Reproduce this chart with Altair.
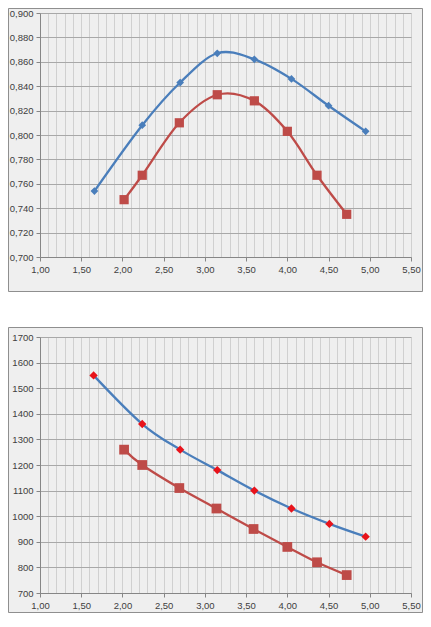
import altair as alt
import pandas as pd

# ---- data ----
x_top_blue = [1.66, 2.24, 2.70, 3.15, 3.60, 4.05, 4.50, 4.95]
y_top_blue = [0.754, 0.808, 0.843, 0.867, 0.862, 0.846, 0.824, 0.803]
x_top_red = [2.02, 2.24, 2.69, 3.15, 3.60, 4.00, 4.36, 4.72]
y_top_red = [0.747, 0.767, 0.810, 0.833, 0.828, 0.803, 0.767, 0.735]

x_bot_blue = [1.65, 2.24, 2.70, 3.15, 3.60, 4.05, 4.51, 4.95]
y_bot_blue = [1550, 1360, 1260, 1180, 1100, 1030, 970, 920]
x_bot_red = [2.02, 2.24, 2.69, 3.14, 3.59, 4.00, 4.36, 4.72]
y_bot_red = [1260, 1200, 1110, 1030, 950, 880, 820, 770]

x_ticks = [1.0, 1.1, 1.2, 1.3, 1.4, 1.5, 1.6, 1.7, 1.8, 1.9,
           2.0, 2.1, 2.2, 2.3, 2.4, 2.5, 2.6, 2.7, 2.8, 2.9,
           3.0, 3.1, 3.2, 3.3, 3.4, 3.5, 3.6, 3.7, 3.8, 3.9,
           4.0, 4.1, 4.2, 4.3, 4.4, 4.5, 4.6, 4.7, 4.8, 4.9,
           5.0, 5.1, 5.2, 5.3, 5.4, 5.5]
y_top_ticks = [0.70, 0.72, 0.74, 0.76, 0.78, 0.80, 0.82, 0.84, 0.86, 0.88, 0.90]
y_bot_ticks = [700, 800, 900, 1000, 1100, 1200, 1300, 1400, 1500, 1600, 1700]

BLUE = "#4a7ebb"
RED = "#be4b48"
BRIGHT_RED = "#e8131b"
MAJOR = "abs(datum.value*2 - round(datum.value*2)) < 0.001"

W, H1, H2 = 371, 244, 256
GAP = 80          # distance between the two plot areas
L, R = 32, 12     # frame overhang left / right of plot area

x_axis = alt.Axis(
    values=x_ticks,
    labelExpr=f"{MAJOR} ? replace(format(datum.value, '.2f'), '.', ',') : ''",
    tickOpacity={"condition": {"test": MAJOR, "value": 1}, "value": 0},
    grid=True, gridColor="#d0d0d0", gridWidth=1,
    labelFlush=False, labelOverlap=False, title=None,
)


def one_row():
    return alt.Chart(pd.DataFrame({"k": [0]}))


def frame(h, top, bottom):
    return one_row().mark_rect(
        stroke="#8f8f8f", strokeWidth=1, fillOpacity=0,
    ).encode(
        x=alt.value(-L + 0.5), x2=alt.value(W + R - 0.5),
        y=alt.value(-top + 0.5), y2=alt.value(h + bottom - 0.5),
    )


def gap_fill(y0, y1):
    return one_row().mark_rect(fill="white", stroke=None).encode(
        x=alt.value(-L), x2=alt.value(W + R),
        y=alt.value(y0), y2=alt.value(y1),
    )


def series(xs, ys, yscale, yaxis, line_color, pt_color, shape, size):
    df = pd.DataFrame({"x": xs, "y": ys})
    base = alt.Chart(df).encode(
        x=alt.X("x:Q", scale=alt.Scale(domain=[1.0, 5.5], nice=False, zero=False), axis=x_axis),
        y=alt.Y("y:Q", scale=yscale, axis=yaxis),
    )
    line = base.mark_line(color=line_color, strokeWidth=2.3, interpolate="cardinal")
    pts = base.mark_point(shape=shape, filled=True, color=pt_color, size=size, opacity=1)
    return line + pts


y_axis_top = alt.Axis(
    values=y_top_ticks,
    labelExpr="replace(format(datum.value, '.3f'), '.', ',')",
    grid=True, gridColor="#a8a8a8", title=None,
)
y_axis_bot = alt.Axis(
    values=y_bot_ticks, format="d",
    grid=True, gridColor="#a8a8a8", title=None,
)
ys_top = alt.Scale(domain=[0.70, 0.90], nice=False, zero=False)
ys_bot = alt.Scale(domain=[700, 1700], nice=False, zero=False)

TOP_OVER, TOP_UNDER = 5, 35
BOT_OVER, BOT_UNDER = 10, 20

top = alt.layer(
    gap_fill(H1 + TOP_UNDER, H1 + GAP - BOT_OVER),
    series(x_top_blue, y_top_blue, ys_top, y_axis_top, BLUE, BLUE, "diamond", 60),
    series(x_top_red, y_top_red, ys_top, y_axis_top, RED, RED, "square", 85),
    frame(H1, TOP_OVER, TOP_UNDER),
).properties(width=W, height=H1)

bottom = alt.layer(
    series(x_bot_blue, y_bot_blue, ys_bot, y_axis_bot, BLUE, BRIGHT_RED, "diamond", 70),
    series(x_bot_red, y_bot_red, ys_bot, y_axis_bot, RED, RED, "square", 95),
    frame(H2, BOT_OVER, BOT_UNDER),
).properties(width=W, height=H2)

chart = alt.vconcat(top, bottom, spacing=GAP, bounds="flush").properties(
    padding=0, background="#efefef",
).configure_view(stroke=None).configure_axis(
    labelFont="Liberation Sans", labelFontSize=9.5,
    labelColor="#404040",
    domainColor="#868686", tickColor="#868686", tickSize=4, labelPadding=3,
)

chart.save("out.html", embed_options={"renderer": "svg", "actions": False})
